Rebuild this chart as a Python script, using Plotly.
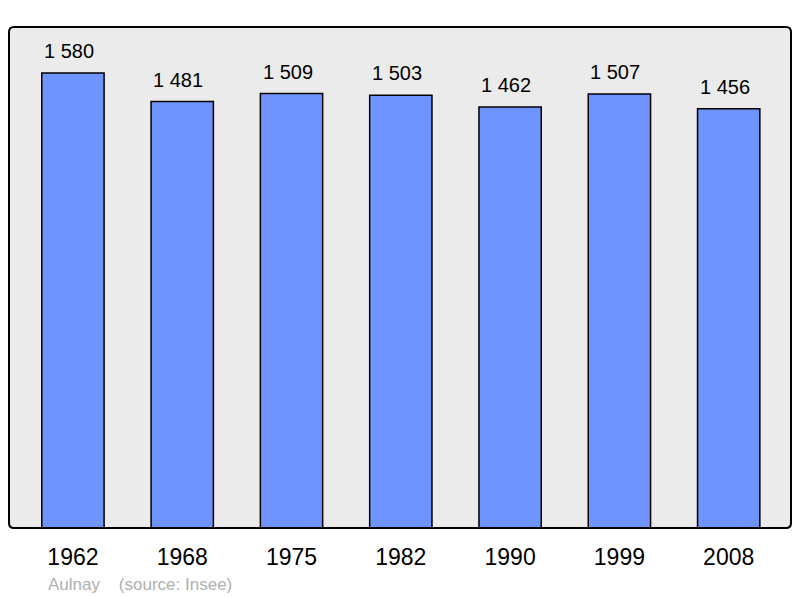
import plotly.graph_objects as go

years = ["1962", "1968", "1975", "1982", "1990", "1999", "2008"]
population = [1580, 1481, 1509, 1503, 1462, 1507, 1456]
labels = ["1 580", "1 481", "1 509", "1 503", "1 462", "1 507", "1 456"]

xs = list(range(len(years)))
FONT = "Liberation Sans, Arial, sans-serif"

fig = go.Figure()
fig.add_trace(go.Bar(
    x=xs, y=population, width=0.57,
    marker=dict(color="#7094ff", line=dict(color="black", width=1.5)),
    hoverinfo="skip",
))

for x, v, t in zip(xs, population, labels):
    fig.add_annotation(x=x, y=v, text=t, showarrow=False, yanchor="bottom",
                       yshift=9, xshift=-4,
                       font=dict(size=20, color="black", family=FONT))

# rounded border of plot area (paper coords)
rx, ry = 5 / 782, 5 / 501
path = (f"M {rx},0 L {1-rx},0 Q 1,0 1,{ry} L 1,{1-ry} Q 1,1 {1-rx},1 "
        f"L {rx},1 Q 0,1 0,{1-ry} L 0,{ry} Q 0,0 {rx},0 Z")
fig.add_shape(type="path", path=path, xref="paper", yref="paper",
              line=dict(color="black", width=2), layer="above")

# page body has an 8px margin: figure is 792x590 placed at (8, 8)
fig.update_layout(
    width=792, height=590,
    margin=dict(l=1, r=9, t=19, b=70),
    plot_bgcolor="#ebebeb", paper_bgcolor="white",
    showlegend=False,
    font=dict(family=FONT, color="black"),
    xaxis=dict(range=[-0.585, 6.57], tickvals=xs, ticktext=years,
               tickfont=dict(size=23, color="black"), showgrid=False,
               zeroline=False, ticks="outside", ticklen=8,
               tickcolor="rgba(0,0,0,0)", fixedrange=True),
    yaxis=dict(range=[0, 1740], showticklabels=False, showgrid=False,
               zeroline=False, fixedrange=True),
)

fig.add_annotation(text="Aulnay&nbsp;&nbsp;&nbsp;&nbsp;(source: Insee)",
                   xref="paper", yref="paper", x=(46 - 9) / 782, y=-(584 - 528) / 501,
                   xanchor="left", yanchor="middle", showarrow=False,
                   font=dict(size=17, color="#b0b0b0", family=FONT))

fig.write_html("out.html")
